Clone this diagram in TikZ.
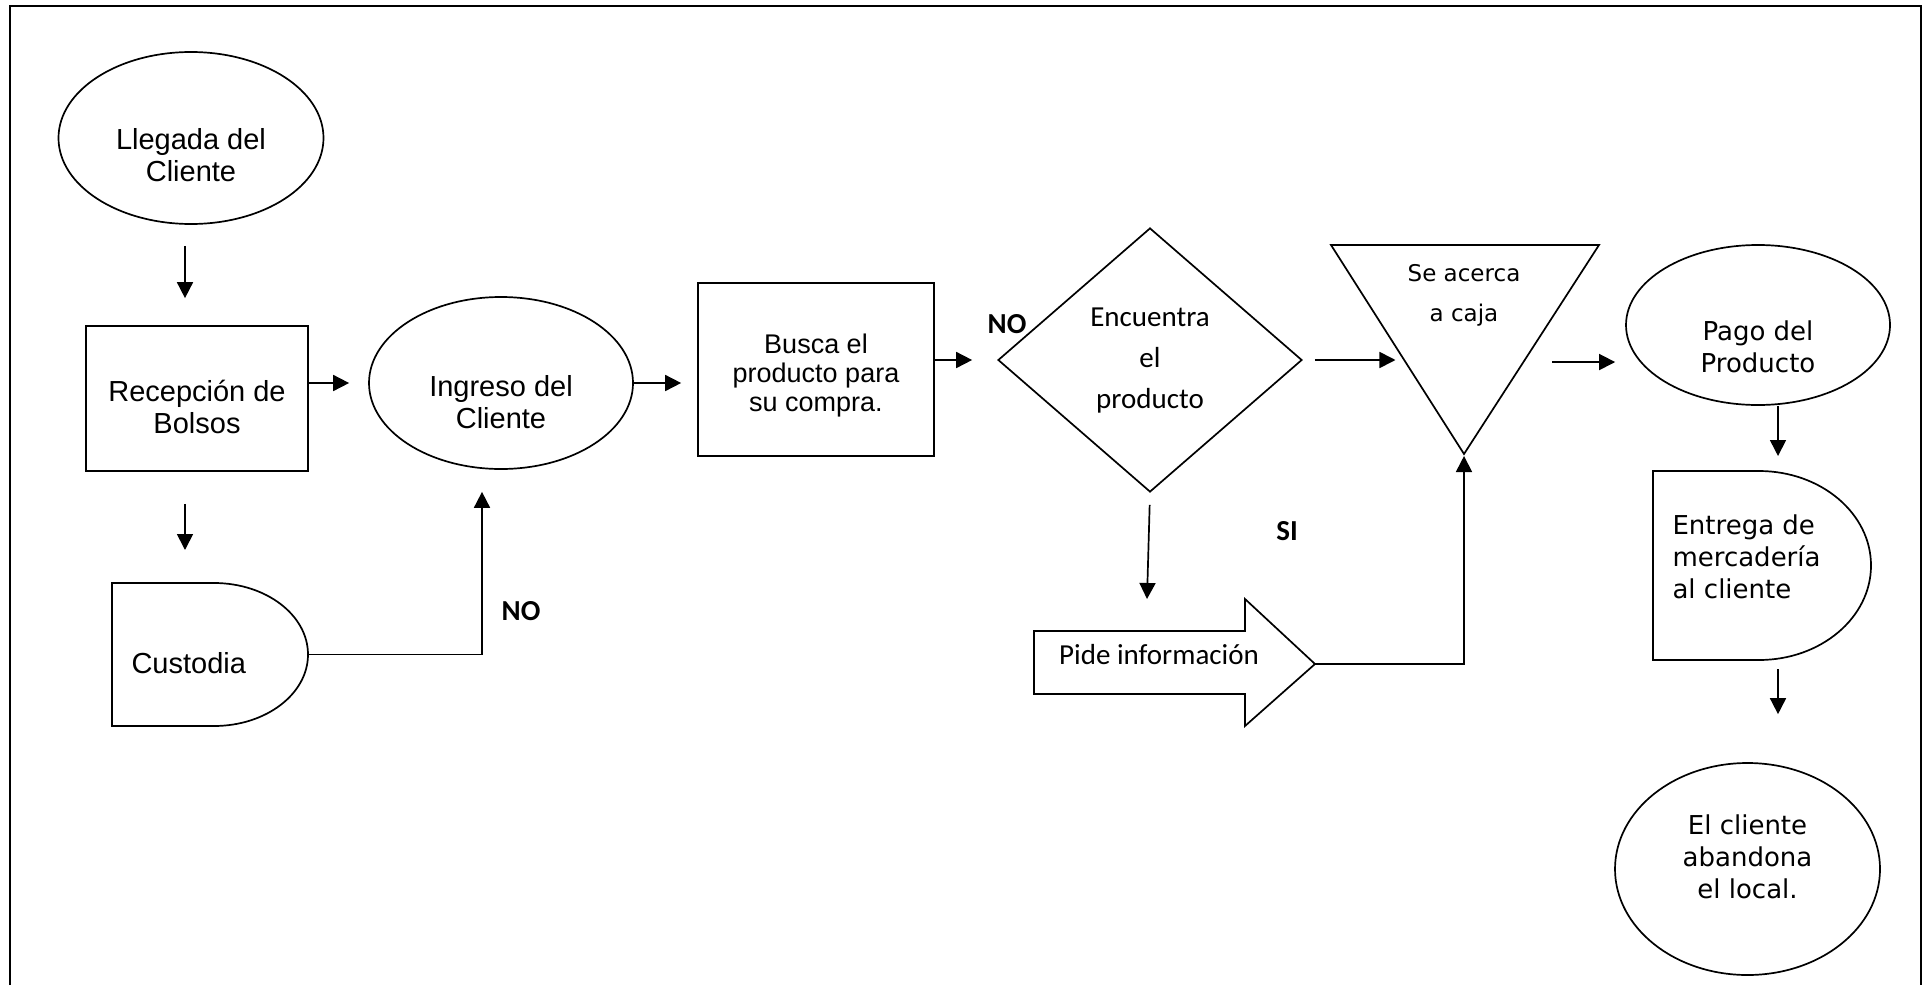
\documentclass[tikz,border=0pt]{standalone}
\usepackage{fontspec}
\usepackage{tikz}
\usetikzlibrary{arrows.meta,shapes.geometric,calc}
\newfontfamily\fuenteA{Liberation Sans}
\newfontfamily\fuenteV{DejaVu Sans}
\newfontfamily\fuenteC{Carlito}
\newcommand{\txtA}{\fuenteA\fontsize{29}{32}\selectfont}
\newcommand{\txtB}{\fuenteA\fontsize{27}{29}\selectfont}
\newcommand{\txtV}{\fuenteV\fontsize{26}{32}\selectfont}
\newcommand{\txtS}{\fuenteV\fontsize{23}{40}\selectfont}
\newcommand{\txtC}{\fuenteC\fontsize{29}{41}\selectfont}
\newcommand{\txtN}{\fuenteC\bfseries\fontsize{29}{32}\selectfont}

\begin{document}
\begin{tikzpicture}[x=1pt,y=-1pt,
  forma/.style={draw,line width=1.7pt,inner sep=0pt},
  elipse/.style={forma,ellipse},
  rect/.style={forma,rectangle},
  flecha/.style={-{Triangle[length=16pt,width=16pt]},line width=1.7pt},
  marco/.style={line width=2.2pt}]
  \useasboundingbox (0,0) rectangle (1924,985);
  \draw[marco] (10,985) -- (10,6) -- (1921,6) -- (1921,985);

  \node[elipse,minimum width=265pt,minimum height=172pt] (llegada) at (191,138) {};
  \node[font=\txtA,align=center] (llegadaT) at (191,155) {Llegada del\\Cliente};
  \node[rect,minimum width=222pt,minimum height=145pt] (recep) at (197,398.5) {};
  \node[font=\txtA,align=center] (recepT) at (197,407) {Recepción de\\Bolsos};
  \node[elipse,minimum width=264pt,minimum height=172pt] (ingreso) at (501,383) {};
  \node[font=\txtA,align=center] (ingresoT) at (501,402) {Ingreso del\\Cliente};
  \node[rect,minimum width=236pt,minimum height=173pt] (busca) at (816,369.5) {};
  \node[font=\txtB,align=center] (buscaT) at (816,376) {Busca el\\producto para\\su compra.};
  \node[forma,diamond,minimum width=304pt,minimum height=264pt] (encuentra) at (1150,360) {};
  \node[font=\txtC,align=center] (encuentraT) at (1150,361) {Encuentra\\el\\producto};
  \node[elipse,minimum width=264pt,minimum height=160pt] (pago) at (1758,325) {};
  \node[font=\txtV,align=center] (pagoT) at (1758,347) {Pago del\\Producto};
  \node[elipse,minimum width=265pt,minimum height=212pt] (abandona) at (1747.5,869) {};
  \node[font=\txtV,align=center] (abandonaT) at (1747.5,857) {El cliente\\abandona\\el local.};

  \draw[forma] (1331,245) coordinate (triA) -- (1599,245) coordinate (triB)
    -- (1464,454) coordinate (triC) -- cycle;
  \coordinate (triIzq) at ($(triA)!0.56!(triC)$);
  \coordinate (triDer) at ($(triB)!0.56!(triC)$);
  \node[font=\txtS,align=center] (acercaT) at (1464,295) {Se acerca\\a caja};

  \draw[forma] (214,583) coordinate (custSup) -- (112,583) -- (112,726) -- (214,726)
    arc[start angle=-90,end angle=90,x radius=94pt,y radius=71.5pt];
  \coordinate (custDer) at (308,654.5);
  \node[font=\txtA,anchor=west] (custodiaT) at (128,663) {Custodia};

  \draw[forma] (1759,471) coordinate (entSup) -- (1653,471) -- (1653,660) -- (1759,660) coordinate (entInf)
    arc[start angle=-90,end angle=90,x radius=112pt,y radius=94.5pt];
  \node[font=\txtV,align=left,anchor=west] (entregaT) at (1669,557) {Entrega de\\mercadería\\al cliente};

  \draw[forma] (1034,631) -- (1245,631) -- (1245,599) coordinate (pideCab)
    -- (1315,664) coordinate (pidePunta) -- (1245,726) -- (1245,694) -- (1034,694) -- cycle;
  \node[font=\txtC] (pideT) at (1159,655) {Pide información};

  \draw[flecha,shorten <=21pt,shorten >=27pt] ([xshift=-6pt]llegada.south) -- ([xshift=-6pt]llegada.south |- recep.north);
  \draw[flecha,shorten <=32pt,shorten >=33pt] ([xshift=-12pt]recep.south) -- ([xshift=-12pt]recep.south |- custSup);
  \draw[flecha,shorten >=19pt] (recep.east |- ingreso.west) -- (ingreso.west);
  \draw[flecha,shorten >=16pt] (ingreso.east) -- (ingreso.east -| busca.west);
  \draw[flecha,shorten >=25pt] (busca.east |- encuentra.west) -- (encuentra.west);
  \draw[flecha,shorten <=12pt,shorten >=10pt] (encuentra.east) -- (encuentra.east -| triIzq);
  \draw[flecha,shorten <=29pt,shorten >=10pt] (triDer) -- (triDer -| pago.west);
  \draw[flecha,shorten >=15pt] ([xshift=20pt]pago.south) -- ([xshift=20pt]pago.south |- entSup);
  \draw[flecha,shorten <=9pt,shorten >=48pt] ([xshift=20pt]pago.south |- entInf) -- ([xshift=20pt]pago.south |- abandona.north);
  \draw[flecha,shorten >=22pt] (custDer) -| ([xshift=-19pt]ingreso.south);
  \draw[flecha,shorten <=12pt] (encuentra.south) -- ([xshift=-3pt]encuentra.south |- pideCab);
  \draw[flecha,shorten >=2pt] (pidePunta) -| (triC);

  \node[font=\txtN] (no1) at (1007,324) {NO};
  \node[font=\txtN] (no2) at (521,611) {NO};
  \node[font=\txtN] (si) at (1287,531) {SI};
\end{tikzpicture}
\end{document}
